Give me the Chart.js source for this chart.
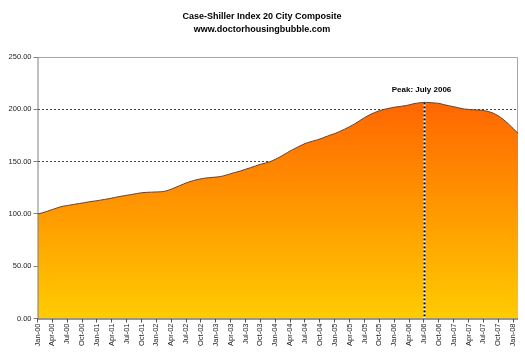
<!DOCTYPE html>
<html>
<head>
<meta charset="utf-8">
<script src="https://cdn.jsdelivr.net/npm/chart.js@4/dist/chart.umd.min.js"></script>
<style>
  html, body { margin: 0; padding: 0; background: #ffffff; }
  #wrap { position: relative; width: 525px; height: 356px; }
</style>
</head>
<body>
<div id="wrap"><canvas id="c" width="525" height="356"></canvas></div>
<script>
const titleLines = ['Case-Shiller Index 20 City Composite', 'www.doctorhousingbubble.com'];
const months = [
  'Jan-00','Feb-00','Mar-00','Apr-00','May-00','Jun-00','Jul-00','Aug-00','Sep-00','Oct-00','Nov-00','Dec-00',
  'Jan-01','Feb-01','Mar-01','Apr-01','May-01','Jun-01','Jul-01','Aug-01','Sep-01','Oct-01','Nov-01','Dec-01',
  'Jan-02','Feb-02','Mar-02','Apr-02','May-02','Jun-02','Jul-02','Aug-02','Sep-02','Oct-02','Nov-02','Dec-02',
  'Jan-03','Feb-03','Mar-03','Apr-03','May-03','Jun-03','Jul-03','Aug-03','Sep-03','Oct-03','Nov-03','Dec-03',
  'Jan-04','Feb-04','Mar-04','Apr-04','May-04','Jun-04','Jul-04','Aug-04','Sep-04','Oct-04','Nov-04','Dec-04',
  'Jan-05','Feb-05','Mar-05','Apr-05','May-05','Jun-05','Jul-05','Aug-05','Sep-05','Oct-05','Nov-05','Dec-05',
  'Jan-06','Feb-06','Mar-06','Apr-06','May-06','Jun-06','Jul-06','Aug-06','Sep-06','Oct-06','Nov-06','Dec-06',
  'Jan-07','Feb-07','Mar-07','Apr-07','May-07','Jun-07','Jul-07','Aug-07','Sep-07','Oct-07','Nov-07','Dec-07',
  'Jan-08','Feb-08'
];
const indexValues = [
  100.0, 101.0, 102.6, 104.2, 105.8, 107.2, 108.0, 108.8, 109.6, 110.4, 111.2, 112.0,
  112.6, 113.4, 114.2, 115.1, 116.1, 117.0, 117.8, 118.6, 119.4, 120.2, 120.6, 120.8,
  121.0, 121.2, 122.0, 123.6, 125.6, 127.6, 129.6, 131.2, 132.5, 133.5, 134.3, 134.8,
  135.2, 135.8, 137.0, 138.4, 139.8, 141.1, 142.7, 144.2, 145.8, 147.4, 148.6, 150.0,
  152.2, 154.6, 157.4, 160.2, 162.6, 165.0, 167.2, 168.8, 170.2, 171.6, 173.4, 175.2,
  176.8, 178.8, 181.0, 183.4, 186.0, 189.0, 192.0, 194.6, 196.8, 198.6, 200.0, 201.0,
  202.0, 202.6, 203.3, 204.2, 205.4, 206.1, 206.6, 206.5, 206.1, 205.7, 204.5, 203.5,
  202.5, 201.4, 200.4, 199.9, 199.6, 199.3, 198.9, 197.9, 196.3, 193.8, 190.4, 186.3,
  181.8, 177.0
];
const yTicks = [0, 50, 100, 150, 200, 250];
const peakMonth = 'Jul-06';
const peakText = 'Peak: July 2006';

const FONT = "'Liberation Sans', Arial, Helvetica, sans-serif";

const titlePlugin = {
  id: 'titleText',
  afterDraw(chart) {
    const c = chart.ctx;
    c.save();
    c.fillStyle = '#000';
    c.textAlign = 'center';
    c.textBaseline = 'middle';
    c.font = 'bold 9px ' + FONT;
    c.fillText(titleLines[0], 262, 17);
    c.fillText(titleLines[1], 262, 29.5);
    c.restore();
  }
};

const framePlugin = {
  id: 'frame',
  beforeDatasetsDraw(chart) {
    const {ctx: c, chartArea: a} = chart;
    c.save();
    c.strokeStyle = '#a6a6a6';
    c.lineWidth = 1;
    c.beginPath();
    c.moveTo(a.left, a.top + 0.5);
    c.lineTo(a.right - 0.5, a.top + 0.5);
    c.lineTo(a.right - 0.5, a.bottom);
    c.stroke();
    c.restore();
  },
  afterDatasetsDraw(chart) {
    const {ctx: c, chartArea: a, scales} = chart;
    const idx = months.indexOf(peakMonth);
    const px = Math.round(scales.x.getPixelForValue(idx)) + 0.5;
    const py = scales.y.getPixelForValue(indexValues[idx]);
    c.save();
    c.lineWidth = 2;
    c.strokeStyle = '#ffffff';
    c.beginPath(); c.moveTo(px, py); c.lineTo(px, a.bottom); c.stroke();
    c.strokeStyle = '#000000';
    c.setLineDash([2, 2]);
    c.beginPath(); c.moveTo(px, py); c.lineTo(px, a.bottom); c.stroke();
    c.setLineDash([]);
    c.fillStyle = '#000';
    c.font = 'bold 8px ' + FONT;
    c.textAlign = 'center';
    c.textBaseline = 'middle';
    c.fillText(peakText, px - 3, 90);
    c.lineWidth = 1;
    c.strokeStyle = '#808080';
    c.beginPath(); c.moveTo(a.left + 0.5, a.top); c.lineTo(a.left + 0.5, a.bottom); c.stroke();
    c.strokeStyle = '#333333';
    c.beginPath(); c.moveTo(a.left, a.bottom + 0.5); c.lineTo(a.right, a.bottom + 0.5); c.stroke();
    c.restore();
  }
};

const maxVal = Math.max(...indexValues);

new Chart(document.getElementById('c'), {
  type: 'line',
  data: {
    labels: months,
    datasets: [{
      data: indexValues,
      fill: 'origin',
      borderColor: '#7a3c10',
      borderWidth: 1,
      pointRadius: 0,
      tension: 0.25,
      backgroundColor(ctx) {
        const chart = ctx.chart;
        const a = chart.chartArea;
        if (!a) return '#ff9900';
        const top = chart.scales.y.getPixelForValue(maxVal);
        const g = chart.ctx.createLinearGradient(0, top, 0, a.bottom);
        g.addColorStop(0, '#ff6600');
        g.addColorStop(1, '#ffcc00');
        return g;
      }
    }]
  },
  options: {
    responsive: false,
    animation: false,
    events: [],
    layout: { padding: { top: 57, right: 7, left: 0, bottom: 0 } },
    plugins: { legend: { display: false }, title: { display: false }, tooltip: { enabled: false } },
    scales: {
      x: {
        type: 'category',
        offset: false,
        border: { display: false },
        grid: {
          display: true,
          drawOnChartArea: false,
          drawTicks: true,
          tickLength: 4,
          tickColor: (ctx) => (ctx.index % 3 === 0 ? '#555555' : 'rgba(0,0,0,0)')
        },
        ticks: {
          autoSkip: false,
          maxRotation: 90,
          minRotation: 90,
          padding: 1,
          color: '#222',
          font: { family: FONT, size: 7.5 },
          callback: (v, i) => (i % 3 === 0 ? months[i] : '')
        },
        afterFit(scale) { scale.height = 37.5; scale.paddingLeft = 0; scale.paddingRight = 0; }
      },
      y: {
        min: 0,
        max: 250,
        border: { display: false, dash: [2, 2] },
        afterBuildTicks(scale) { scale.ticks = yTicks.map(v => ({ value: v })); },
        grid: {
          color: (ctx) => (ctx.tick && (ctx.tick.value === 0 || ctx.tick.value === 250) ? 'rgba(0,0,0,0)' : '#444444'),
          tickColor: '#808080',
          tickLength: 4,
          tickBorderDash: [],
          lineWidth: 1
        },
        ticks: {
          padding: 2,
          color: '#222',
          font: { family: FONT, size: 7.5 },
          callback: (v) => Number(v).toFixed(2)
        },
        afterFit(scale) { scale.width = 37.5; scale.paddingTop = 0; scale.paddingBottom = 0; }
      }
    }
  },
  plugins: [titlePlugin, framePlugin]
});
</script>
</body>
</html>
